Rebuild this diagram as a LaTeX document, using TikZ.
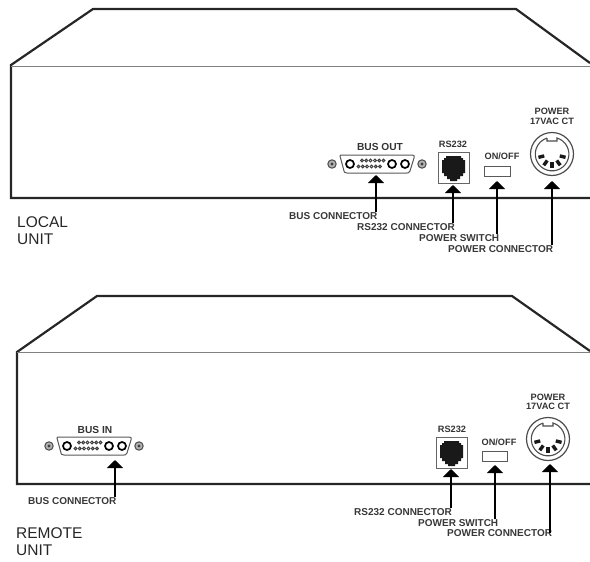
\documentclass[tikz,border=0pt]{standalone}
\usepackage{fontspec}
\setmainfont{Liberation Sans}
\usetikzlibrary{arrows.meta}
\tikzset{
    wall/.style={black!85, line width=2.2pt},
    seam/.style={black!50, line width=1pt},
    panel/.style={font=\fontsize{9.2}{9.6}\selectfont\bfseries, text=black!80, inner sep=0pt},
    buspanel/.style={panel, font=\fontsize{10.2}{10.2}\selectfont\bfseries},
    callout/.style={font=\fontsize{10}{10}\selectfont\bfseries, text=black!78, inner sep=0pt, anchor=west},
    unitname/.style={font=\fontsize{15.5}{17.5}\selectfont, text=black!85, align=left, inner sep=0pt, anchor=north west},
    pointer/.style={-{Triangle[length=8pt,width=16pt]}, line width=2.6pt, black},
    socket/.style={draw=black!65, line width=1pt, fill=white},
}
\newcommand{\dsub}[2]{%
    \begin{scope}[shift={(#1,#2)}]
        \draw[socket] (-37,-8) .. controls (-37,-9) and (-36,-9) .. (-34,-9) -- (34,-9) .. controls (37,-9) and (38,-8) .. (37,-6) -- (33,7) .. controls (32,9) and (31,9) .. (30,9) -- (-30,9) .. controls (-32,9) and (-33,8) .. (-33,7) -- cycle;
        \foreach \x in {-27,15,28}
            \draw[black, line width=1.7pt] (\x,0) circle (4);
        \foreach \x in {0,...,5}
            \draw[black!75, line width=1pt] (-15+\x*4.3,-3.5) circle (1.4);
        \foreach \x in {0,...,5}
            \draw[black!75, line width=1pt] (-18.5+\x*4.3,2.5) circle (1.4);
        \foreach \x in {-45,45} {
            \draw[black!70, line width=1pt, fill=black!30] (\x,0) circle (4.2);
            \fill[black!75] (\x,0) circle (1.7);
        }
    \end{scope}}
\newcommand{\rjack}[2]{%
    \begin{scope}[shift={(#1,#2)}]
        \draw[draw=black!60, line width=1pt] (0,0) rectangle (31,31);
        \fill[black!90] (8,4) -- (23,4) -- (23,6) -- (25,6) -- (25,8) -- (27,8) -- (27,21) -- (25,21) -- (25,24) -- (22,24) -- (22,27) -- (19,27) -- (19,29) -- (12,29) -- (12,27) -- (9,27) -- (9,24) -- (6,24) -- (6,21) -- (4,21) -- (4,8) -- (6,8) -- (6,6) -- (8,6) -- cycle;
    \end{scope}}
\newcommand{\din}[2]{%
    \begin{scope}[shift={(#1,#2)}]
        \draw[black!70, line width=1.2pt] (0,0) circle (21.5);
        \draw[black!70, line width=1.1pt] (-5,-16) -- (-5,-13) -- (5,-13) -- (5,-16) arc (-73:253:16.8);
        \foreach \a in {14,54,90,126,166}
            \draw[black!90, line width=3.4pt] (\a:8) -- (\a:14);
    \end{scope}}
\begin{document}
\begin{tikzpicture}[x=1pt,y=-1pt]
    \useasboundingbox (0,0) rectangle (590,562);
    % local unit
    \draw[wall] (590,63) -- (516,9) -- (93,9) -- (11,65) -- (11,198) -- (590,198);
    \draw[seam] (11,66) -- (590,66);
    \dsub{377}{164}
    \rjack{438}{152}
    \draw[draw=black!65, line width=1pt] (484,166) rectangle (510,176);
    \din{552}{154}
    \node[buspanel] (busout) at (380,147) {BUS OUT};
    \node[panel] (rsa) at (453,144) {RS232};
    \node[panel] (onoffa) at (502,156) {ON/OFF};
    \node[panel, align=center] (powera) at (552,116.5) {POWER\\17VAC CT};
    \node[callout] (busa) at (289,216) {BUS CONNECTOR};
    \node[callout] (rslaba) at (357,227) {RS232 CONNECTOR};
    \node[callout] (swa) at (419,238) {POWER SWITCH};
    \node[callout] (cona) at (448,249) {POWER CONNECTOR};
    \coordinate (busheada) at (376,175);
    \coordinate (rsheada) at (453,185);
    \coordinate (swheada) at (497,181);
    \coordinate (conheada) at (552,181);
    \draw[pointer] (busa.north -| busheada) -- (busheada);
    \draw[pointer] (rslaba.north -| rsheada) -- (rsheada);
    \draw[pointer] (swa.north -| swheada) -- (swheada);
    \draw[pointer] (cona.north -| conheada) -- (conheada);
    \node[unitname] (locala) at (17,216) {LOCAL\\UNIT};
    % remote unit
    \draw[wall] (590,351) -- (512,296) -- (97,296) -- (17,352) -- (17,484) -- (590,484);
    \draw[seam] (17,352.5) -- (590,352.5);
    \dsub{94}{446}
    \rjack{436}{437}
    \draw[draw=black!65, line width=1pt] (482,451) rectangle (507,461);
    \din{548}{439}
    \node[buspanel] (busin) at (95,430) {BUS IN};
    \node[panel] (rsb) at (452,429) {RS232};
    \node[panel] (onoffb) at (499,442) {ON/OFF};
    \node[panel, align=center] (powerb) at (548,402) {POWER\\17VAC CT};
    \node[callout] (busb) at (28,501) {BUS CONNECTOR};
    \node[callout] (rslabb) at (354,512) {RS232 CONNECTOR};
    \node[callout] (swb) at (418,523) {POWER SWITCH};
    \node[callout] (conb) at (447,533) {POWER CONNECTOR};
    \coordinate (busheadb) at (115,460);
    \coordinate (rsheadb) at (451,469);
    \coordinate (swheadb) at (495,465);
    \coordinate (conheadb) at (550,464);
    \draw[pointer] (busb.north -| busheadb) -- (busheadb);
    \draw[pointer] (rslabb.north -| rsheadb) -- (rsheadb);
    \draw[pointer] (swb.north -| swheadb) -- (swheadb);
    \draw[pointer] (conb.center -| conheadb) -- (conheadb);
    \node[unitname] (localb) at (16,527) {REMOTE\\UNIT};
\end{tikzpicture}
\end{document}
